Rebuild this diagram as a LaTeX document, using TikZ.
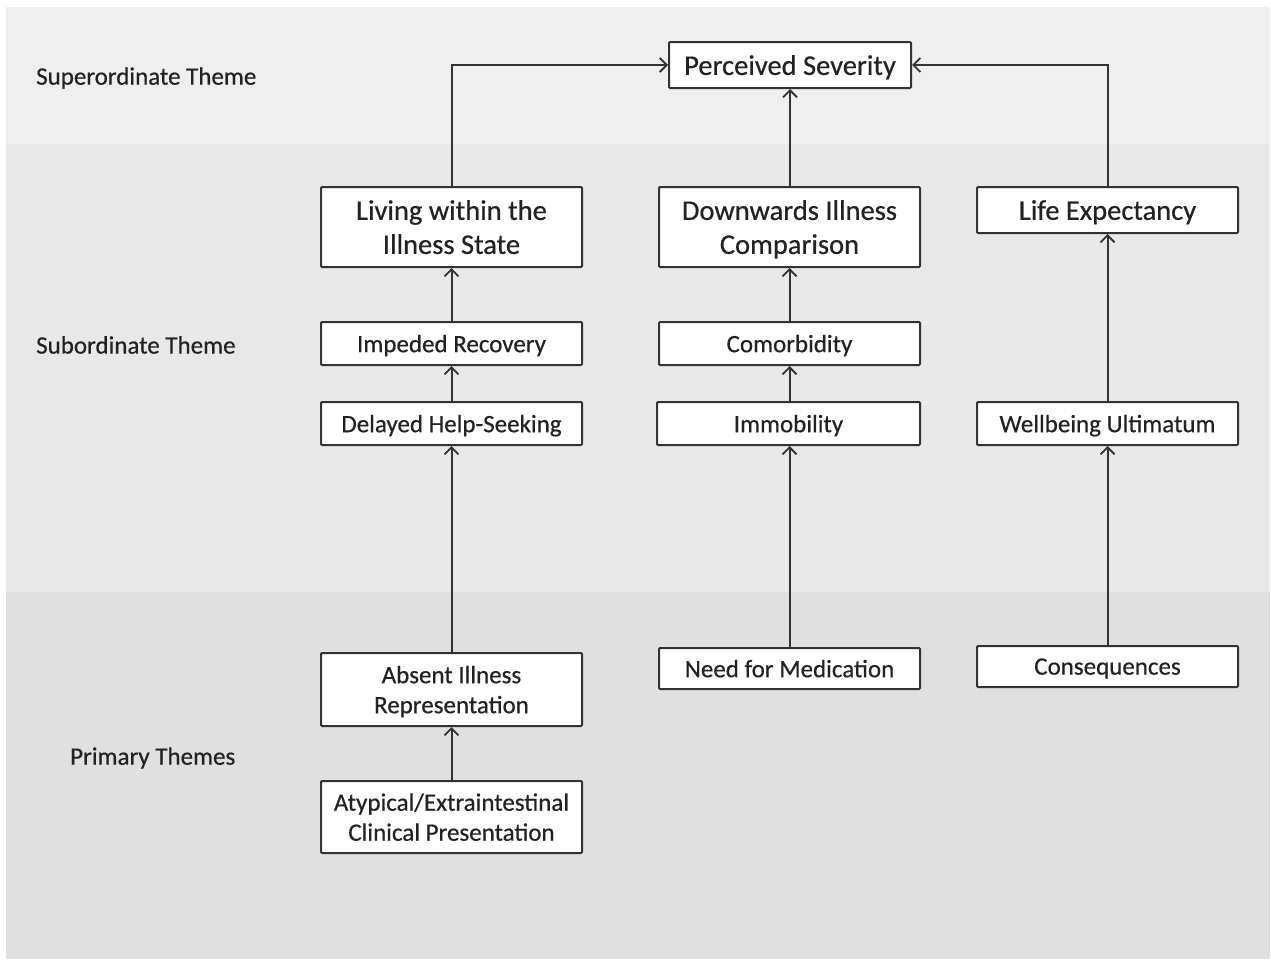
\documentclass[tikz,border=0pt]{standalone}
\usepackage{fontspec}
\setmainfont{Carlito}[FakeBold=0.5]
\usetikzlibrary{arrows.meta}
\definecolor{bandA}{HTML}{EFEFEF}
\definecolor{bandB}{HTML}{E8E8E8}
\definecolor{bandC}{HTML}{E0E0E0}
\definecolor{ink}{HTML}{333333}
\definecolor{txt}{HTML}{222222}
\tikzset{
  box/.style={draw=ink, line width=2pt, fill=white, rounded corners=1pt, align=center, text=txt, inner sep=0pt, text depth=0pt},
  bigbox/.style={box, font=\fontsize{28.5}{34}\selectfont},
  smallbox/.style={box, font=\fontsize{25}{30}\selectfont},
  lvl/.style={anchor=west, text=txt, font=\fontsize{25}{30}\selectfont, inner sep=0pt},
  conn/.style={draw=ink, line width=2pt, -{Straight Barb[length=7pt,width=14pt,line width=1.8pt]}}
}
\begin{document}
\begin{tikzpicture}[x=1pt,y=-1pt]
\useasboundingbox (0,0) rectangle (1271,959);
\fill[white] (0,0) rectangle (1271,959);
\fill[bandA] (6,7) rectangle (1270,144);
\fill[bandB] (6,144) rectangle (1270,592);
\fill[bandC] (6,592) rectangle (1270,959);

\node[lvl] (l1) at (36,78) {Superordinate Theme};
\node[lvl] (l2) at (36,345) {Subordinate Theme};
\node[lvl] (l3) at (70,758) {Primary Themes};

\node[bigbox, minimum width=242pt, minimum height=46pt] (ps) at (790,65) {Perceived Severity};
\node[bigbox, minimum width=261pt, minimum height=80pt] (lw) at (451.5,227) {Living within the\\Illness State};
\node[bigbox, minimum width=261pt, minimum height=80pt] (dc) at (789.5,227) {Downwards Illness\\Comparison};
\node[bigbox, minimum width=261pt, minimum height=46pt] (le) at (1107.5,210) {Life Expectancy};
\node[smallbox, minimum width=261pt, minimum height=43pt] (ir) at (451.5,343.5) {Impeded Recovery};
\node[smallbox, minimum width=261pt, minimum height=43pt] (co) at (789.5,343.5) {Comorbidity};
\node[smallbox, minimum width=261pt, minimum height=43pt] (dh) at (451.5,423.5) {Delayed Help-Seeking};
\node[smallbox, minimum width=263pt, minimum height=43pt] (im) at (788.5,423.5) {Immobility};
\node[smallbox, minimum width=261pt, minimum height=43pt] (wu) at (1107.5,423.5) {Wellbeing Ultimatum};
\node[smallbox, minimum width=261pt, minimum height=73pt] (ai) at (451.5,689.5) {Absent Illness\\Representation};
\node[smallbox, minimum width=261pt, minimum height=41pt] (nm) at (789.5,668.5) {Need for Medication};
\node[smallbox, minimum width=261pt, minimum height=41pt] (cq) at (1107.5,666.5) {Consequences};
\node[smallbox, minimum width=261pt, minimum height=72pt] (at) at (451.5,817) {Atypical/Extraintestinal\\Clinical Presentation};

\draw[conn] (lw.north) |- (ps.west);
\draw[conn] (le.north) |- (ps.east);
\draw[conn] (dc.north -| ps.south) -- (ps.south);
\draw[conn] (ir.north) -- (lw.south);
\draw[conn] (dh.north) -- (ir.south);
\draw[conn] (ai.north) -- (dh.south);
\draw[conn] (at.north) -- (ai.south);
\draw[conn] (co.north) -- (dc.south);
\draw[conn] (im.north -| co.north) -- (co.south);
\draw[conn] (nm.north) -- (im.south -| nm.north);
\draw[conn] (wu.north) -- (le.south);
\draw[conn] (cq.north) -- (wu.south);
\end{tikzpicture}
\end{document}
